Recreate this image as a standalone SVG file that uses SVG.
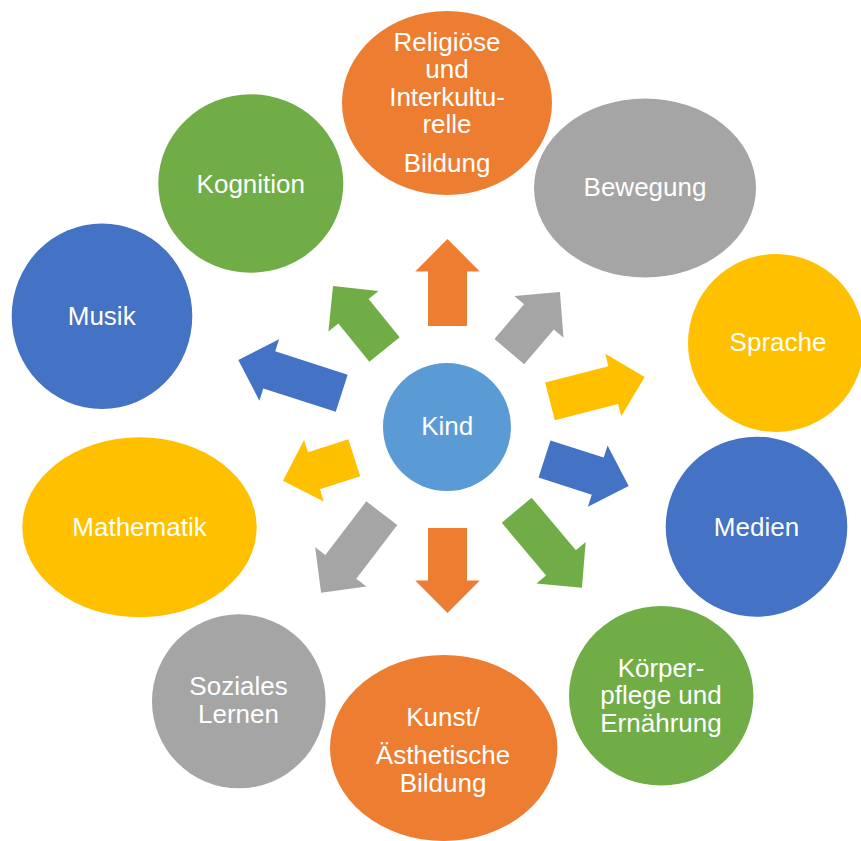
<svg xmlns="http://www.w3.org/2000/svg" width="861" height="841" viewBox="0 0 861 841">
<style>
text{font-family:"Liberation Sans",Arial,sans-serif;font-size:26px;fill:#fff;text-anchor:middle}
.o{fill:#ED7D31}.g{fill:#A5A5A5}.y{fill:#FFC000}.b{fill:#4472C4}.gr{fill:#70AD47}.k{fill:#5B9BD5}
</style>
<rect width="861" height="841" fill="#fff"/>
<g id="religioese"><ellipse class="o" cx="447" cy="103" rx="105" ry="92"/>
<text x="447" y="51">Religiöse</text><text x="447" y="78">und</text><text x="447" y="106">Interkultu-</text><text x="447" y="133">relle</text><text x="447" y="172">Bildung</text></g>
<g id="bewegung"><ellipse class="g" cx="645" cy="188" rx="111" ry="89.5"/><text x="645" y="196">Bewegung</text></g>
<g id="sprache"><ellipse class="y" cx="776" cy="343" rx="88" ry="89"/><text x="778" y="351">Sprache</text></g>
<g id="medien"><ellipse class="b" cx="756.5" cy="526.7" rx="90.8" ry="90"/><text x="756.5" y="535.5">Medien</text></g>
<g id="koerperpflege"><ellipse class="gr" cx="661.2" cy="695.8" rx="92.2" ry="89.8"/>
<text x="661" y="676.5">Körper-</text><text x="661" y="703.5">pflege und</text><text x="661" y="731.5">Ernährung</text></g>
<g id="kunst"><ellipse class="o" cx="443.7" cy="748" rx="113.7" ry="93"/>
<text x="443" y="726">Kunst/</text><text x="443" y="763.5">Ästhetische</text><text x="443" y="791.5">Bildung</text></g>
<g id="soziales"><ellipse class="g" cx="238.8" cy="701.3" rx="86.8" ry="87"/>
<text x="238.5" y="695">Soziales</text><text x="238.5" y="723">Lernen</text></g>
<g id="mathematik"><ellipse class="y" cx="139.5" cy="527.3" rx="117.2" ry="90"/><text x="139.5" y="536">Mathematik</text></g>
<g id="musik"><ellipse class="b" cx="102" cy="316.2" rx="90.3" ry="92.8"/><text x="101.7" y="325">Musik</text></g>
<g id="kognition"><ellipse class="gr" cx="250.8" cy="183.5" rx="92.5" ry="89.2"/><text x="250.8" y="192.5">Kognition</text></g>
<g id="kind"><circle class="k" cx="447" cy="427" r="64"/><text x="447.2" y="435">Kind</text></g>
<g id="connectors">
<path class="o" transform="translate(447.5,326) rotate(-90)" d="M0,-19.5H54.5V-32.25L87,0L54.5,32.25V19.5H0Z"/>
<path class="g" transform="translate(509.3,351.7) rotate(-49.7)" d="M0,-19.5H45.8V-32.25L78.3,0L45.8,32.25V19.5H0Z"/>
<path class="y" transform="translate(550,401.3) rotate(-14.4)" d="M0,-19.5H65.3V-32.25L97.8,0L65.3,32.25V19.5H0Z"/>
<path class="b" transform="translate(544.5,459) rotate(17.8)" d="M0,-19.5H55.9V-32.25L88.4,0L55.9,32.25V19.5H0Z"/>
<path class="gr" transform="translate(516.7,510.2) rotate(49.9)" d="M0,-19.5H68.8V-32.25L101.3,0L68.8,32.25V19.5H0Z"/>
<path class="o" transform="translate(447.5,528) rotate(90)" d="M0,-19.5H52.5V-32.25L85,0L52.5,32.25V19.5H0Z"/>
<path class="g" transform="translate(381.8,513.2) rotate(127.4)" d="M0,-19.5H67.5V-32.25L100,0L67.5,32.25V19.5H0Z"/>
<path class="y" transform="translate(354.3,457.8) rotate(162.2)" d="M0,-19.5H42.4V-32.25L74.9,0L42.4,32.25V19.5H0Z"/>
<path class="b" transform="translate(341.7,393.2) rotate(-162.2)" d="M0,-19.5H76.1V-32.25L108.6,0L76.1,32.25V19.5H0Z"/>
<path class="gr" transform="translate(384.5,349.5) rotate(-129)" d="M0,-19.5H49.3V-32.25L81.8,0L49.3,32.25V19.5H0Z"/>
</g>
</svg>
